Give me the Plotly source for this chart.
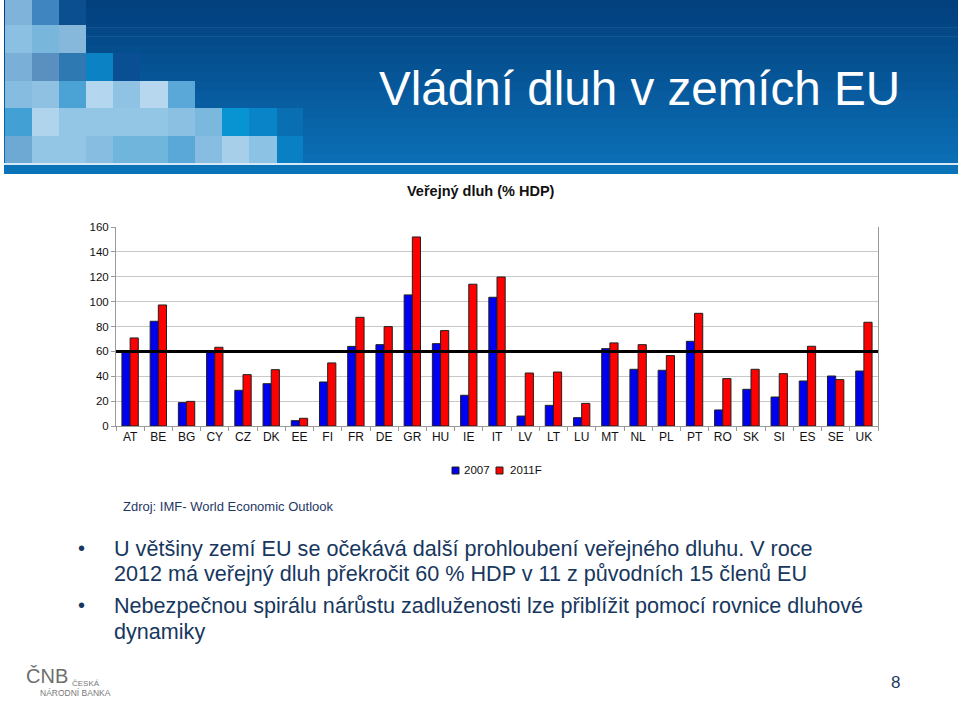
import plotly.graph_objects as go

# ---------------- data ----------------
countries = ["AT", "BE", "BG", "CY", "CZ", "DK", "EE", "FI", "FR", "DE", "GR", "HU", "IE", "IT",
             "LV", "LT", "LU", "MT", "NL", "PL", "PT", "RO", "SK", "SI", "ES", "SE", "UK"]
debt_2007 = [60.6, 84.2, 18.8, 59.2, 28.7, 34.0, 4.3, 35.4, 64.0, 65.4, 105.4, 66.2, 24.7, 103.5,
             8.0, 16.6, 6.7, 62.2, 45.6, 44.8, 68.1, 12.9, 29.5, 23.3, 36.2, 40.2, 44.2]
debt_2011 = [70.8, 97.3, 19.8, 63.3, 41.3, 45.3, 6.2, 50.7, 87.4, 79.9, 152.0, 76.7, 114.0, 119.8,
             42.6, 43.4, 18.2, 66.8, 65.4, 56.6, 90.6, 38.1, 45.6, 42.1, 64.1, 37.3, 83.4]
series_names = ["2007", "2011F"]
series_colors = ["#0000F0", "#FF0000"]
maastricht_limit = 60
y_ticks = [0, 20, 40, 60, 80, 100, 120, 140, 160]

page_title = "Vládní dluh v zemích EU"
chart_title = "Veřejný dluh (% HDP)"
source_text = "Zdroj: IMF- World Economic Outlook"
bullet_lines = [
    ("•", "U většiny zemí EU se očekává další prohloubení veřejného dluhu. V roce"),
    ("", "2012 má veřejný dluh překročit 60 % HDP v 11 z původních 15 členů EU"),
    ("•", "Nebezpečnou spirálu nárůstu zadluženosti lze přiblížit pomocí rovnice dluhové"),
    ("", "dynamiky"),
]
page_number = "8"

# ---------------- layout geometry ----------------
W, H = 960, 701
L, R, T, B = 116, 878, 227, 426
PW, PH = R - L, B - T


def px(x):
    return (x - L) / PW


def py(y):
    return (B - y) / PH


ARIAL = "Arial, Liberation Sans, sans-serif"
BODY = "Liberation Sans, Arial, sans-serif"

fig = go.Figure()
for name, vals, col in zip(series_names, [debt_2007, debt_2011], series_colors):
    fig.add_trace(go.Bar(x=countries, y=vals, name=name, showlegend=False,
                         marker=dict(color=col, line=dict(color="#202020", width=1))))

shapes = []
# header gradient
top_c = (2, 64, 126)
bot_c = (11, 110, 180)
n = 18
for i in range(n):
    t = i / (n - 1)
    c = tuple(int(round(top_c[k] + (bot_c[k] - top_c[k]) * t)) for k in range(3))
    y0 = 163 * i / n
    y1 = 163 * (i + 1) / n + 0.6
    shapes.append(dict(type="rect", xref="paper", yref="paper", x0=px(4), x1=px(958),
                       y0=py(y1), y1=py(y0), fillcolor="rgb(%d,%d,%d)" % c,
                       line=dict(width=0), layer="below"))
shapes.append(dict(type="rect", xref="paper", yref="paper", x0=px(4), x1=px(958),
                   y0=py(165), y1=py(163), fillcolor="#d6e8f5", line=dict(width=0), layer="below"))
shapes.append(dict(type="rect", xref="paper", yref="paper", x0=px(4), x1=px(958),
                   y0=py(174), y1=py(165), fillcolor="#0a72b7", line=dict(width=0), layer="below"))

# mosaic tiles (decorative)
col_x = [5, 32, 59, 86, 113, 140, 168, 195, 222, 249, 277, 303]
row_y = [0, 25, 53, 81, 108, 136, 163]
mosaic = [
    ["#7fb3d9", "#3f86c0", "#0b4f90"],
    ["#8cc0e2", "#79b6dc", "#86b8dc"],
    ["#7ab0d8", "#5990c0", "#2f79b2", "#0a82c4", "#0a4f94"],
    ["#86bce0", "#8fc1e3", "#4ba2d4", "#b4d6ee", "#90c2e4", "#b6d7ee", "#5aa8d8"],
    ["#43a0d4", "#b0d4ec", "#93c5e5", "#93c5e5", "#93c5e5", "#93c5e5", "#8cc0e2", "#7ab8de",
     "#0893d2", "#0a84c8", "#0a6eb2"],
    ["#6ea9d4", "#93c5e5", "#93c5e5", "#86bde0", "#70b6dc", "#70b6dc", "#5aa8d8", "#86bde0",
     "#a8cfea", "#8cc2e4", "#0a80c4"],
]
for r, row in enumerate(mosaic):
    for c, col in enumerate(row):
        shapes.append(dict(type="rect", xref="paper", yref="paper",
                           x0=px(col_x[c]), x1=px(col_x[c + 1]),
                           y0=py(row_y[r + 1]), y1=py(row_y[r]),
                           fillcolor=col, line=dict(width=0), layer="below"))

# 60 % reference line
shapes.append(dict(type="line", xref="paper", yref="y", x0=0, x1=1,
                   y0=maastricht_limit, y1=maastricht_limit,
                   line=dict(color="black", width=3), layer="above"))

annotations = []
annotations.append(dict(text=page_title, xref="paper", yref="paper", x=px(377), y=py(88),
                        xanchor="left", yanchor="middle", showarrow=False,
                        font=dict(family=ARIAL, size=47.6, color="white")))
annotations.append(dict(text="<b>" + chart_title + "</b>", xref="paper", yref="paper",
                        x=px(481), y=py(191), xanchor="center", yanchor="middle", showarrow=False,
                        font=dict(family=ARIAL, size=14.5, color="#111")))
annotations.append(dict(text=source_text, xref="paper", yref="paper", x=px(121), y=py(506),
                        xanchor="left", yanchor="middle", showarrow=False,
                        font=dict(family=ARIAL, size=13, color="#1f3864")))

# legend (drawn as small squares + labels)
legend_sq_x = [452, 496]
legend_tx_x = [462, 508]
for name, col, sx, tx in zip(series_names, series_colors, legend_sq_x, legend_tx_x):
    shapes.append(dict(type="rect", xref="paper", yref="paper", x0=px(sx), x1=px(sx + 7),
                       y0=py(474), y1=py(467), fillcolor=col,
                       line=dict(color="#202020", width=1)))
    annotations.append(dict(text=name, xref="paper", yref="paper", x=px(tx), y=py(470),
                            xanchor="left", yanchor="middle", showarrow=False,
                            font=dict(family=ARIAL, size=11.5, color="#111")))

line_y = [548, 573, 605, 631]
for (bul, txt), yy in zip(bullet_lines, line_y):
    if bul:
        annotations.append(dict(text=bul, xref="paper", yref="paper", x=px(76), y=py(yy),
                                xanchor="left", yanchor="middle", showarrow=False,
                                font=dict(family=ARIAL, size=20, color="#17375e")))
    annotations.append(dict(text=txt, xref="paper", yref="paper", x=px(112), y=py(yy),
                            xanchor="left", yanchor="middle", showarrow=False,
                            font=dict(family=BODY, size=21.6, color="#17375e")))
annotations.append(dict(text=page_number, xref="paper", yref="paper", x=px(895), y=py(682),
                        xanchor="center", yanchor="middle", showarrow=False,
                        font=dict(family=BODY, size=17, color="#1f3864")))
# logo text
annotations.append(dict(text="ČNB", xref="paper", yref="paper", x=px(24), y=py(676),
                        xanchor="left", yanchor="middle", showarrow=False,
                        font=dict(family=BODY, size=20, color="#6e6e6e")))
annotations.append(dict(text="ČESKÁ", xref="paper", yref="paper", x=px(70), y=py(683),
                        xanchor="left", yanchor="middle", showarrow=False,
                        font=dict(family=BODY, size=8, color="#7a7a7a")))
annotations.append(dict(text="NÁRODNÍ BANKA", xref="paper", yref="paper", x=px(38), y=py(693),
                        xanchor="left", yanchor="middle", showarrow=False,
                        font=dict(family=BODY, size=8.5, color="#7a7a7a")))

fig.update_layout(
    width=W, height=H, autosize=False,
    margin=dict(l=L, r=W - R, t=T, b=H - B, pad=0),
    paper_bgcolor="white", plot_bgcolor="white",
    font=dict(family=ARIAL, size=12, color="#111"),
    barmode="group", bargap=0.42, bargroupgap=0.0,
    showlegend=False,
    shapes=shapes, annotations=annotations,
)
fig.update_xaxes(showline=True, linecolor="#9a9a9a", linewidth=1, ticks="outside",
                 tickson="boundaries", ticklen=4, tickcolor="#9a9a9a",
                 tickfont=dict(size=12, color="#111"), showgrid=False, fixedrange=True)
fig.update_yaxes(range=[0, 160], tickvals=y_ticks, showline=True, mirror=True,
                 linecolor="#9a9a9a", linewidth=1, ticks="outside", ticklen=4,
                 tickcolor="#9a9a9a", showgrid=True, gridcolor="#c8c8c8", gridwidth=1,
                 zeroline=False, tickfont=dict(size=11.5, color="#111"), fixedrange=True)

fig.write_html("out.html", config={"displayModeBar": False},
               post_script="document.body.style.margin='0';document.body.style.overflow='hidden';")
